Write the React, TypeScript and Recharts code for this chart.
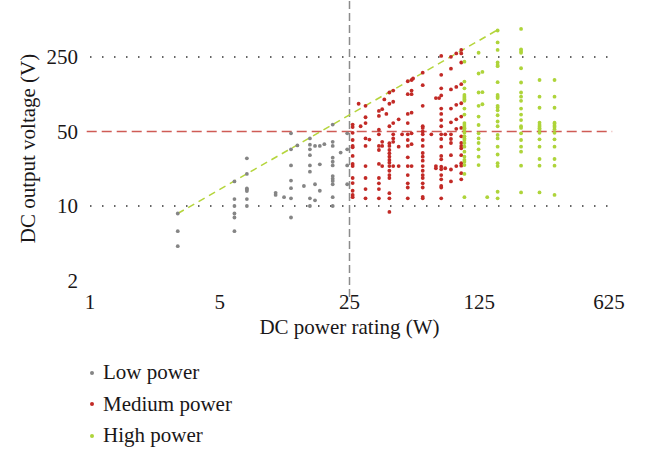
import React from 'react';
import { ScatterChart, Scatter, XAxis, YAxis, ReferenceLine, Legend } from 'recharts';

// [power rating (W), output voltages (V)]
const lowPower: [number, number[]][] = [
  [2.97, [8.5, 5.8, 4.2]],
  [6, [17, 11.6, 10, 8.5, 7.8, 5.8]],
  [7, [28, 20, 14.6, 14.2, 13.8, 11.6, 10]],
  [10, [13.3, 12.7]],
  [11.1, [12.1]],
  [12.1, [48, 34, 24, 17.3, 14.7, 11.8, 7.8]],
  [13.1, [37]],
  [14.2, [15.4]],
  [15.3, [43, 37.6, 34, 30, 24, 21, 11.8, 10]],
  [16.3, [36.6, 16, 11.3]],
  [17.3, [36.6, 24.6, 13.9]],
  [18.3, [38]],
  [20.3, [58, 40, 36.6, 28.4, 26, 24, 19.1, 18, 17.2, 16, 12.1, 10]],
  [22.4, [31.7]],
  [24.3, [48, 34, 24, 16]],
];

const mediumPower: [number, number[]][] = [
  [26, [58, 55, 48.6, 41.6, 36.6, 35.5, 29.5, 24.8, 23.7, 18.3, 16.4, 13.9, 12.7, 12.1]],
  [28, [91]],
  [28.7, [56]],
  [30.5, [87, 68, 60, 43, 36.6, 23.7, 18.3, 14.4, 11.8]],
  [32, [42]],
  [36, [78, 70, 52, 47, 36.6, 33.5, 24.8, 18.3, 16.3, 14.4, 11.8]],
  [37.5, [81, 40, 36.6, 23.7]],
  [38.5, [100]],
  [39.5, [73]],
  [41, [116, 91, 56, 38.8, 36.6, 33.5, 31.2, 29, 27, 25.5, 23.7, 21.4, 19.5, 18.3, 13.2, 11.8, 8.8]],
  [43, [121, 95, 60, 47, 43, 40, 23.7]],
  [46, [65, 36, 23.7]],
  [48, [47]],
  [51.5, [148, 112, 73, 60, 47, 41.6, 36.6, 28.6, 23.7, 19.5, 16.3, 14.9, 11.8]],
  [54, [152, 121, 112, 75, 48, 38, 23.7]],
  [55, [157]],
  [62, [178, 136, 87, 56, 54, 50, 47, 41.6, 36.6, 31.4, 29, 26.6, 23.7, 21.4, 19.5, 18.3, 16.3, 14.9, 12.2, 11.8]],
  [69, [47]],
  [73, [103, 23.7, 22.6]],
  [76, [103]],
  [78, [256, 170, 127, 109, 82, 73, 64, 56, 47, 42.5, 36, 29.5, 27.4, 23.4, 22.1, 19.5, 17.8, 15.4, 14.9, 11.8]],
  [82, [47, 22.6]],
  [88, [251, 194, 124, 82, 61, 47, 42.5, 39, 30, 22, 17]],
  [94, [270, 131, 89, 65, 53, 23.7]],
  [100, [291, 270, 222, 139, 92, 69, 54, 45, 39, 36.5, 34.8, 30, 25.2, 23.9, 20.3, 17.8]],
];

const highPower: [number, number[]][] = [
  [104, [226, 147, 127, 110, 106, 103, 100, 97, 82, 72, 60, 57.5, 55, 53.5, 51.7, 48.6, 45, 43, 41.6, 39, 36, 32.3, 29, 27, 26, 24.2, 20, 12.1]],
  [124, [274, 175, 116, 87, 69, 57.5, 48, 43, 39, 34, 29, 24.2]],
  [130, [181, 117, 90]],
  [138, [12.1]],
  [157, [443, 342, 291, 222, 210, 205, 145, 110, 106, 103, 87, 84, 79, 71, 62, 56, 46.4, 43, 36, 30.4, 25.2, 23.7, 13.6, 11.8]],
  [210, [458, 295, 284, 274, 196, 144, 116, 106, 97, 82, 72, 64, 56, 54, 48, 41.6, 36, 32.3, 23.9, 13.4]],
  [264, [152, 106, 83.5, 60.5, 57.5, 55.5, 53.5, 51.7, 48.6, 42.2, 36, 27.6, 23.9, 13.4]],
  [318, [152, 106, 83.5, 60.5, 59, 56.5, 55, 52.5, 48.6, 42.2, 36, 27.6, 23.9, 12.7]],
];

const xTicks = [1, 5, 25, 125, 625];
const yTicks = [2, 10, 50, 250];
const xDomain = [1, 625];
const yDomain = [1.4, 856];
const powerBoundary = 25;
const voltageBoundary = 50;
const dottedLevels = [10, 250];
const diagonalLine = [
  { x: 2.97, y: 8.5 },
  { x: 158, y: 452 },
];
const redLineSpan = [0.96, 650];

const FONT = "'Liberation Serif', 'DejaVu Serif', serif";
const TEXT = '#1a1718';
const FS = 21;

const toPoints = (cols: [number, number[]][]) =>
  cols.flatMap(([p, vs]) => vs.map((v) => ({ p, v })));

const series = [
  { name: 'Low power', color: '#858585', data: toPoints(lowPower) },
  { name: 'Medium power', color: '#c22a26', data: toPoints(mediumPower) },
  { name: 'High power', color: '#aed43a', data: toPoints(highPower) },
];

const makeDot = (color: string) => (props: any) => (
  <circle cx={props.cx} cy={props.cy} r={1.9} fill={color} />
);

const LegendContent = () => (
  <div style={{ fontFamily: FONT, fontSize: FS, color: TEXT }}>
    {series.map((s) => (
      <div key={s.name} style={{ height: 31.5, display: 'flex', alignItems: 'center' }}>
        <span
          style={{
            display: 'inline-block',
            width: 4,
            height: 4,
            borderRadius: 2,
            background: s.color,
            marginLeft: 10,
            marginRight: 9,
          }}
        />
        <span>{s.name}</span>
      </div>
    ))}
  </div>
);

export default function App() {
  return (
    <div style={{ position: 'absolute', left: 0, top: 0, fontFamily: FONT }}>
      <ScatterChart width={653} height={451} margin={{ top: 0, right: 44, bottom: 109, left: 0 }}>
        <XAxis
          dataKey="p"
          type="number"
          scale="log"
          domain={xDomain}
          ticks={xTicks}
          interval={0}
          allowDataOverflow
          axisLine={false}
          tickLine={false}
          tickSize={0}
          tickMargin={-3}
          height={45}
          tick={{ fill: TEXT, fontSize: FS, fontFamily: FONT }}
          label={{
            value: 'DC power rating (W)',
            position: 'insideBottom',
            offset: 8,
            fill: TEXT,
            fontSize: FS,
            fontFamily: FONT,
          }}
        />
        <YAxis
          dataKey="v"
          type="number"
          scale="log"
          domain={yDomain}
          ticks={yTicks}
          interval={0}
          allowDataOverflow
          axisLine={false}
          tickLine={false}
          tickSize={0}
          tickMargin={12}
          width={90}
          tick={{ fill: TEXT, fontSize: FS, fontFamily: FONT }}
          label={{
            value: 'DC output voltage (V)',
            angle: -90,
            position: 'insideLeft',
            offset: 28,
            fill: TEXT,
            fontSize: FS,
            fontFamily: FONT,
            style: { textAnchor: 'middle' },
          }}
        />
        {dottedLevels.map((lv) => (
          <ReferenceLine key={lv} y={lv} stroke="#333" strokeWidth={1.3} strokeDasharray="1.5 10.5" />
        ))}
        <ReferenceLine
          segment={[
            { x: redLineSpan[0], y: voltageBoundary },
            { x: redLineSpan[1], y: voltageBoundary },
          ]}
          ifOverflow="visible"
          stroke="#cf5b56"
          strokeWidth={1.6}
          strokeDasharray="10 5"
        />
        <ReferenceLine x={powerBoundary} stroke="#8c8c8c" strokeWidth={1.5} strokeDasharray="8 4" />
        <ReferenceLine segment={diagonalLine} stroke="#b5d53c" strokeWidth={1.5} strokeDasharray="7 5" />
        {series.map((s) => (
          <Scatter
            key={s.name}
            name={s.name}
            data={s.data}
            fill={s.color}
            shape={makeDot(s.color)}
            isAnimationActive={false}
          />
        ))}
        <Legend
          layout="horizontal"
          align="center"
          verticalAlign="middle"
          wrapperStyle={{ left: 80, top: 357, width: 260 }}
          content={<LegendContent />}
        />
      </ScatterChart>
    </div>
  );
}
